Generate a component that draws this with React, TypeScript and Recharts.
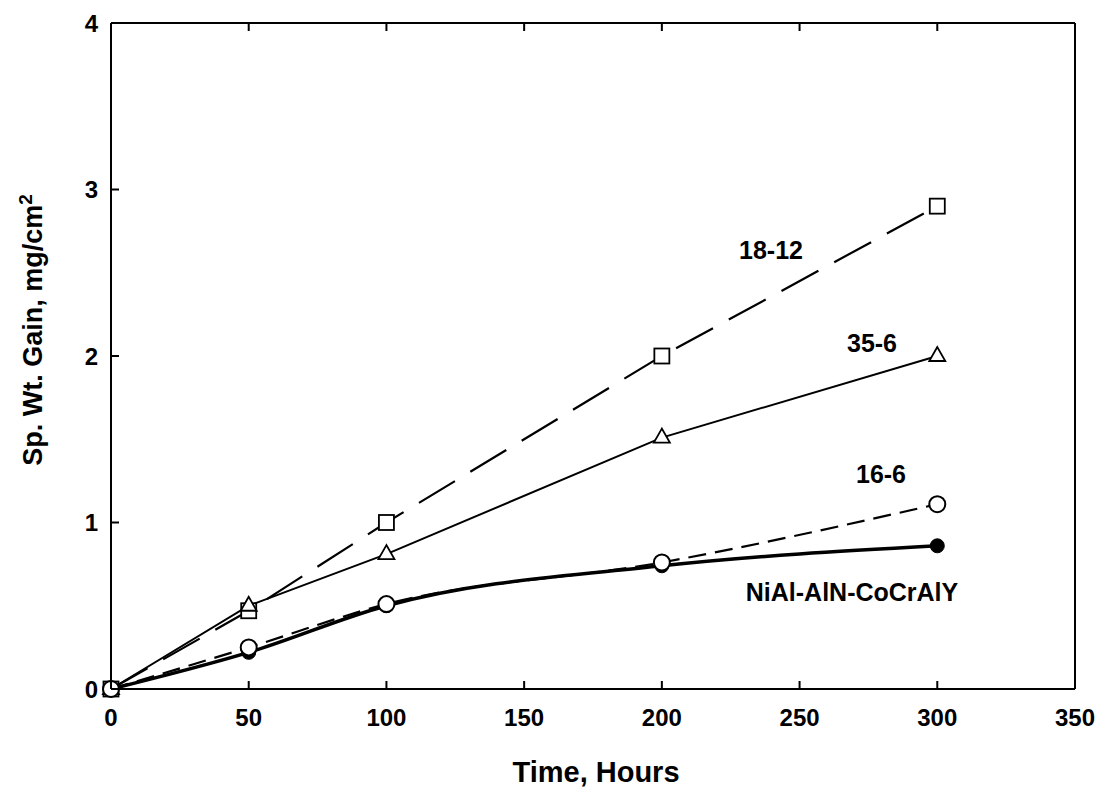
import { LineChart, Line, XAxis, YAxis } from "recharts";

const hours = [0, 50, 100, 200, 300];
const gain1812 = [0, 0.47, 1.0, 2.0, 2.9];
const gain356 = [0, 0.5, 0.81, 1.51, 2.0];
const gain166 = [0, 0.25, 0.51, 0.76, 1.11];
const gainNiAl = [0, 0.22, 0.5, 0.74, 0.86];

const xTicks = [0, 50, 100, 150, 200, 250, 300, 350];
const yTicks = [0, 1, 2, 3, 4];

const data = hours.map((h, i) => ({
  hours: h,
  s1812: gain1812[i],
  s356: gain356[i],
  s166: gain166[i],
  niAl: gainNiAl[i],
}));

const FONT = "'Liberation Sans', Arial, Helvetica, sans-serif";
const TS = 8; // tickSize handed to recharts, ticks are redrawn inward

const BottomTick = (p: any) => (
  <g>
    <line x1={p.x} y1={p.y - TS} x2={p.x} y2={p.y - TS - 8} stroke="#000" strokeWidth={2} />
    <text x={p.x} y={p.y - TS + 37} textAnchor="middle" fontSize={24} fontWeight="bold" fontFamily={FONT} fill="#000">
      {p.payload.value}
    </text>
  </g>
);

const LeftTick = (p: any) => (
  <g>
    <line x1={p.x + TS} y1={p.y} x2={p.x + TS + 8} y2={p.y} stroke="#000" strokeWidth={2} />
    <text x={p.x + TS - 13} y={p.y + 8.5} textAnchor="end" fontSize={24} fontWeight="bold" fontFamily={FONT} fill="#000">
      {p.payload.value}
    </text>
  </g>
);

const TopTick = (p: any) =>
  p.payload.value > 0 && p.payload.value < 350 ? (
    <line x1={p.x} y1={p.y + TS} x2={p.x} y2={p.y + TS + 8} stroke="#000" strokeWidth={2} />
  ) : (
    <g />
  );

const RightTick = (p: any) =>
  p.payload.value > 0 && p.payload.value < 4 ? (
    <line x1={p.x - TS} y1={p.y} x2={p.x - TS - 9} y2={p.y} stroke="#000" strokeWidth={2} />
  ) : (
    <g />
  );

const squareDot = (p: any) => (
  <rect key={`sq-${p.index}`} x={p.cx - 7.5} y={p.cy - 7.5} width={15} height={15} fill="#fff" stroke="#000" strokeWidth={1.8} />
);

const triangleDot = (p: any) => (
  <polygon
    key={`tr-${p.index}`}
    points={`${p.cx},${p.cy - 9} ${p.cx - 8},${p.cy + 5} ${p.cx + 8},${p.cy + 5}`}
    fill="#fff"
    stroke="#000"
    strokeWidth={1.8}
  />
);

const openDot = (p: any) => (
  <circle key={`oc-${p.index}`} cx={p.cx} cy={p.cy} r={8} fill="#fff" stroke="#000" strokeWidth={2} />
);

const filledDot = (p: any) => <circle key={`fc-${p.index}`} cx={p.cx} cy={p.cy} r={7} fill="#000" stroke="#000" />;

const label = (text: string, x: number, y: number) => (
  <div
    style={{
      position: "absolute",
      left: x,
      top: y,
      transform: "translate(-50%, -50%)",
      fontFamily: FONT,
      fontWeight: "bold",
      fontSize: 25,
      lineHeight: 1,
      whiteSpace: "nowrap",
    }}
  >
    {text}
  </div>
);

export default function App() {
  return (
    <div style={{ position: "absolute", left: 0, top: 0, width: 1103, height: 791, background: "#fff" }}>
      <LineChart width={1103} height={791} data={data} margin={{ top: 22, right: 27, left: 0, bottom: 0 }}>
        <XAxis
          dataKey="hours"
          type="number"
          domain={[0, 350]}
          ticks={xTicks}
          height={102}
          tickSize={TS}
          tickMargin={0}
          axisLine={{ stroke: "#000", strokeWidth: 2 }}
          tickLine={false}
          tick={BottomTick}
          interval={0}
        />
        <XAxis
          xAxisId="top"
          orientation="top"
          dataKey="hours"
          type="number"
          domain={[0, 350]}
          ticks={xTicks}
          height={1}
          tickSize={TS}
          tickMargin={0}
          axisLine={{ stroke: "#000", strokeWidth: 2 }}
          tickLine={false}
          tick={TopTick}
          interval={0}
        />
        <YAxis
          type="number"
          domain={[0, 4]}
          ticks={yTicks}
          width={111}
          tickSize={TS}
          tickMargin={0}
          axisLine={{ stroke: "#000", strokeWidth: 2 }}
          tickLine={false}
          tick={LeftTick}
          interval={0}
        />
        <YAxis
          yAxisId="right"
          orientation="right"
          type="number"
          domain={[0, 4]}
          ticks={yTicks}
          width={1}
          tickSize={TS}
          tickMargin={0}
          axisLine={{ stroke: "#000", strokeWidth: 2 }}
          tickLine={false}
          tick={RightTick}
          interval={0}
        />
        <Line
          type="linear"
          dataKey="s1812"
          stroke="#000"
          strokeWidth={2.2}
          strokeDasharray="42 18"
          dot={squareDot}
          isAnimationActive={false}
        />
        <Line
          type="linear"
          dataKey="s356"
          stroke="#000"
          strokeWidth={2}
          dot={triangleDot}
          isAnimationActive={false}
        />
        <Line
          type="monotone"
          dataKey="niAl"
          stroke="#000"
          strokeWidth={3.5}
          dot={filledDot}
          isAnimationActive={false}
        />
        <Line
          type="monotone"
          dataKey="s166"
          stroke="#000"
          strokeWidth={2.2}
          strokeDasharray="18 9"
          dot={openDot}
          isAnimationActive={false}
        />
      </LineChart>
      {label("18-12", 771, 250)}
      {label("35-6", 872, 343)}
      {label("16-6", 881, 474)}
      {label("NiAl-AlN-CoCrAlY", 852, 592)}
      <div
        style={{
          position: "absolute",
          left: 31,
          top: 330,
          transform: "translate(-50%, -50%) rotate(-90deg)",
          fontFamily: FONT,
          fontWeight: "bold",
          fontSize: 27,
          lineHeight: 1,
          whiteSpace: "nowrap",
        }}
      >
        Sp. Wt. Gain, mg/cm<sup style={{ fontSize: 19 }}>2</sup>
      </div>
      <div
        style={{
          position: "absolute",
          left: 596,
          top: 772,
          transform: "translate(-50%, -50%)",
          fontFamily: FONT,
          fontWeight: "bold",
          fontSize: 29,
          lineHeight: 1,
          whiteSpace: "nowrap",
        }}
      >
        Time, Hours
      </div>
    </div>
  );
}
